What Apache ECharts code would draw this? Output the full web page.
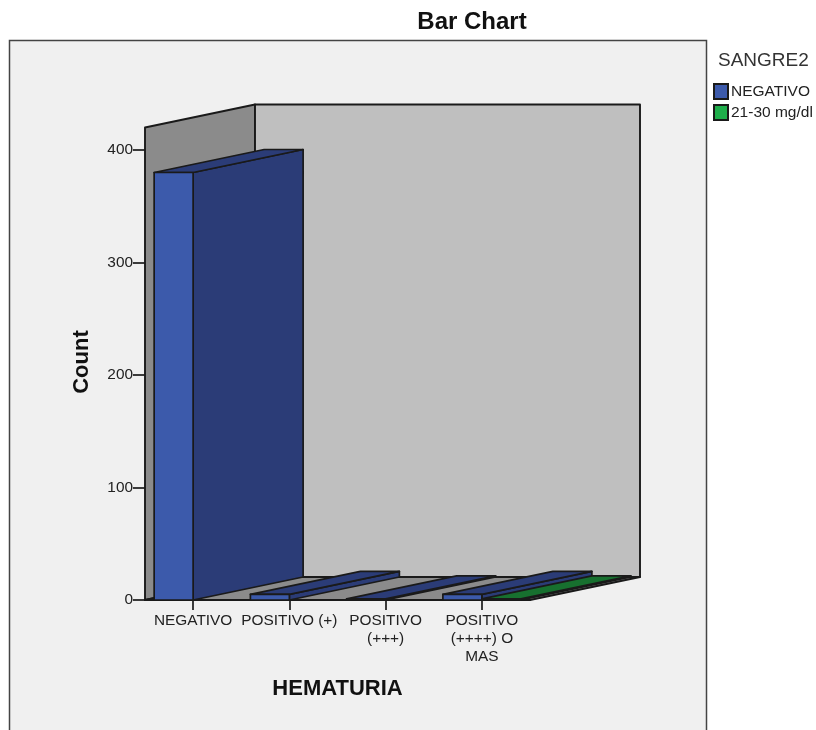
<!DOCTYPE html>
<html><head><meta charset="utf-8">
<style>html,body{margin:0;padding:0;background:#fff}#c{width:816px;height:730px}</style>
<script src="https://cdn.jsdelivr.net/npm/echarts@6/dist/echarts.min.js"></script>
</head><body><div id="c"></div>
<script>
const categories = ['NEGATIVO', 'POSITIVO (+)', 'POSITIVO\n(+++)', 'POSITIVO\n(++++) O\nMAS'];
const negativo = [380, 5, 1, 5];
const mgdl2130 = [0, 0, 0, 1];
const yTicks = { min: 0, max: 400, interval: 100 };
const wallTop = 420;
const DEPTH_X = 110, DEPTH_Y = -23, BAR_RATIO = 0.405;
const FONT = '"Liberation Sans", Arial, sans-serif';
const INK = '#1a1a1a';

const chart = echarts.init(document.getElementById('c'), null, { renderer: 'canvas' });

function poly(points, fill, sw) {
  return { type: 'polygon', shape: { points }, style: { fill, stroke: INK, lineWidth: sw || 1.7, lineJoin: 'round' } };
}
function back(p) { return [p[0] + DEPTH_X, p[1] + DEPTH_Y]; }

function renderWalls(params, api) {
  const band = api.size([1, 0])[0];
  const o = api.coord([0, 0]);
  const t = api.coord([0, wallTop]);
  const xL = o[0] - band / 2, xR = xL + band * categories.length;
  const a = [xL, o[1]], b = [xR, o[1]], c = [xL, t[1]];
  return { type: 'group', children: [
    poly([c, back(c), back(a), a], '#8b8b8b', 1.9),
    poly([back(c), [back(b)[0], back(c)[1]], back(b), back(a)], '#bfbfbf', 1.9),
    poly([a, b, back(b), back(a)], '#8b8b8b', 1.9)
  ]};
}
function renderBar(front, dark, side) {
  return function (params, api) {
    const v = api.value(1);
    if (!v) return null;
    const i = api.value(0);
    const c = api.coord([i, 0]);
    const top = api.coord([i, v])[1];
    const w = api.size([1, 0])[0] * BAR_RATIO;
    const x0 = side < 0 ? c[0] - w : c[0], x1 = x0 + w;
    const fl = [x0, top], fr = [x1, top], br = [x1, c[1]], bl = [x0, c[1]];
    return { type: 'group', children: [
      poly([br, fr, back(fr), back(br)], dark),
      poly([fl, fr, back(fr), back(fl)], dark),
      poly([fl, fr, br, bl], front)
    ]};
  };
}

chart.setOption({
  animation: false,
  backgroundColor: '#ffffff',
  title: { text: 'Bar Chart', left: 467, top: 5, textAlign: 'center',
    textStyle: { fontFamily: FONT, fontSize: 24, fontWeight: 'bold', color: '#111' } },
  legend: {
    orient: 'vertical', left: 713, top: 83, itemWidth: 14, itemHeight: 15, itemGap: 4,
    icon: 'rect', selectedMode: false, padding: 0,
    data: ['NEGATIVO', '21-30 mg/dl'],
    textStyle: { fontFamily: FONT, fontSize: 15.5, color: '#222', padding: [0, 0, 0, -2] }
  },
  graphic: [
    { type: 'rect', z: -10, silent: true, shape: { x: 9.5, y: 40.5, width: 697, height: 720 },
      style: { fill: '#f0f0f0', stroke: '#444', lineWidth: 1.5 } },
    { type: 'text', left: 718, top: 51, silent: true,
      style: { text: 'SANGRE2', font: '19px ' + FONT, fill: '#333' } }
  ],
  grid: { left: 145, top: 150, width: 385, height: 450, containLabel: false },
  xAxis: {
    type: 'category', data: categories, boundaryGap: true,
    name: 'HEMATURIA', nameLocation: 'middle', nameGap: 78,
    nameTextStyle: { fontFamily: FONT, fontSize: 22, fontWeight: 'bold', color: '#111' },
    axisLine: { show: true, lineStyle: { color: INK, width: 1.7 } },
    axisTick: { show: true, alignWithLabel: true, length: 10, lineStyle: { color: INK, width: 1.7 } },
    axisLabel: { interval: 0, margin: 12, fontFamily: FONT, fontSize: 15.4, lineHeight: 18, color: '#222' },
    splitLine: { show: false }
  },
  yAxis: {
    type: 'value', min: yTicks.min, max: yTicks.max, interval: yTicks.interval,
    name: 'Count', nameLocation: 'middle', nameGap: 52, nameRotate: 90,
    nameTextStyle: { fontFamily: FONT, fontSize: 22, fontWeight: 'bold', color: '#111', padding: [0, 0, 0, 26] },
    axisLine: { show: false },
    axisTick: { show: true, length: 12, lineStyle: { color: INK, width: 1.7 } },
    axisLabel: { margin: 12, fontFamily: FONT, fontSize: 15.4, color: '#222' },
    splitLine: { show: false }
  },
  series: [
    { type: 'custom', name: 'walls', z: 2, silent: true, renderItem: renderWalls,
      data: [[0, 0]], encode: { x: 0, y: 1 } },
    { type: 'custom', name: 'NEGATIVO', z: 3, silent: true, renderItem: renderBar('#3c5aab', '#2b3c77', -1),
      itemStyle: { color: '#3c5aab', borderColor: INK, borderWidth: 1.5 },
      data: categories.map((c, i) => [i, negativo[i]]), encode: { x: 0, y: 1 } },
    { type: 'custom', name: '21-30 mg/dl', z: 3, silent: true, renderItem: renderBar('#1fae4b', '#17702f', 1),
      itemStyle: { color: '#1fae4b', borderColor: INK, borderWidth: 1.5 },
      data: categories.map((c, i) => [i, mgdl2130[i]]), encode: { x: 0, y: 1 } }
  ]
});
</script></body></html>
